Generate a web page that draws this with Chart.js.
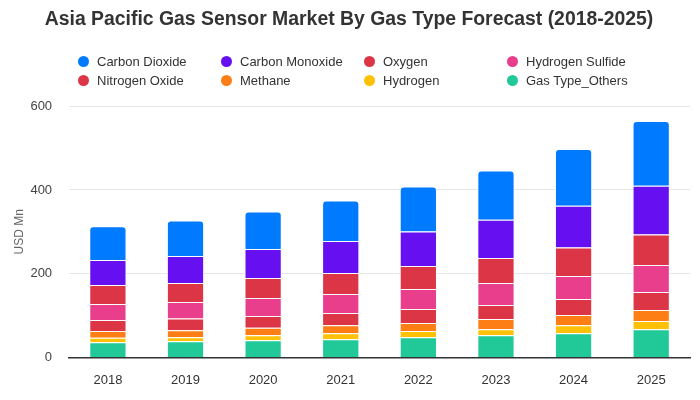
<!DOCTYPE html>
<html>
<head>
<meta charset="utf-8">
<script src="https://cdn.jsdelivr.net/npm/chart.js@4.4.1/dist/chart.umd.min.js"></script>
<style>
  html, body { margin: 0; padding: 0; background: #fff; }
  .wrap { position: relative; width: 700px; height: 400px; }
  .legend {
    position: absolute; left: 78px; top: 52px;
    display: grid; grid-template-columns: repeat(4, 143px);
    font-family: "Liberation Sans", Arial, sans-serif; font-size: 13px; color: #333;
  }
  .legend-item { display: flex; align-items: center; height: 19px; white-space: nowrap; }
  .legend-dot { width: 11px; height: 11px; border-radius: 50%; margin-right: 8px; flex: none; }
</style>
</head>
<body>
<div class="wrap">
  <canvas id="gasChart"></canvas>
  <div class="legend" id="legend"></div>
</div>
<script>
const years = ["2018", "2019", "2020", "2021", "2022", "2023", "2024", "2025"];
const yTicks = [0, 200, 400, 600];

// USD Mn
const carbonDioxide   = [80.5, 84.6, 89.3, 96.6, 107.8, 118.1, 135.5, 154.7];
const carbonMonoxide  = [59.9, 64.7, 69.5, 76.6, 82.2, 91.0, 99.9, 116.7];
const oxygen          = [45.5, 45.5, 47.9, 50.3, 55.0, 59.9, 67.8, 72.6];
const hydrogenSulfide = [38.3, 39.3, 43.1, 45.5, 48.0, 52.7, 55.1, 64.6];
const nitrogenOxide   = [26.3, 27.8, 28.0, 28.8, 33.5, 33.5, 38.3, 43.1];
const methane         = [16.1, 16.7, 17.5, 19.1, 19.1, 24.0, 24.0, 26.4];
const hydrogen        = [10.3, 9.6, 12.0, 14.4, 14.4, 14.3, 19.1, 19.2];
const gasOthers       = [36.4, 38.8, 41.2, 43.6, 48.4, 53.2, 58.0, 67.5];

// legend order (top of the stack first)
const series = [
  { label: "Carbon Dioxide", data: carbonDioxide, color: "#007bff" },
  { label: "Carbon Monoxide", data: carbonMonoxide, color: "#6610f2" },
  { label: "Oxygen", data: oxygen, color: "#dc3545" },
  { label: "Hydrogen Sulfide", data: hydrogenSulfide, color: "#e83e8c" },
  { label: "Nitrogen Oxide", data: nitrogenOxide, color: "#dc3545" },
  { label: "Methane", data: methane, color: "#fd7e14" },
  { label: "Hydrogen", data: hydrogen, color: "#ffc107" },
  { label: "Gas Type_Others", data: gasOthers, color: "#20c997" },
];

const legendEl = document.getElementById("legend");
series.forEach((s) => {
  const item = document.createElement("div");
  item.className = "legend-item";
  item.innerHTML = `<span class="legend-dot" style="background:${s.color}"></span>${s.label}`;
  legendEl.appendChild(item);
});

// first dataset sits at the bottom of the stack
const datasets = series.slice().reverse().map((s) => ({
  label: s.label,
  data: s.data,
  backgroundColor: s.color,
  borderColor: "#ffffff",
  borderWidth: 1,
  borderRadius: 4,
  barPercentage: 0.48,
  categoryPercentage: 1,
}));

const font = "'Liberation Sans', Arial, sans-serif";

new Chart(document.getElementById("gasChart"), {
  type: "bar",
  data: { labels: years, datasets },
  options: {
    responsive: true,
    maintainAspectRatio: false,
    animation: false,
    layout: { padding: { left: 8, right: 10, bottom: 12 } },
    plugins: {
      legend: { display: false },
      tooltip: { enabled: false },
      title: {
        display: true,
        text: "Asia Pacific Gas Sensor Market By Gas Type Forecast (2018-2025)",
        color: "#333",
        font: { family: font, size: 19.4, weight: "bold" },
        padding: { top: 8, bottom: 75 },
      },
    },
    scales: {
      x: {
        stacked: true,
        grid: { display: true, drawOnChartArea: false, drawTicks: true, tickLength: 15, tickColor: "transparent" },
        border: { color: "#333", width: 1.5 },
        ticks: { color: "#333", font: { family: font, size: 13 }, padding: 0 },
      },
      y: {
        stacked: true,
        min: 0,
        max: 600,
        afterBuildTicks: (axis) => { axis.ticks = yTicks.map((v) => ({ value: v })); },
        grid: { color: "#e6e6e6", drawTicks: true, tickLength: 17, tickColor: "transparent" },
        border: { display: false },
        ticks: { color: "#444", font: { family: font, size: 13 }, padding: 0 },
        title: { display: true, text: "USD Mn", color: "#666", font: { family: font, size: 12 } },
      },
    },
  },
});
</script>
</body>
</html>
